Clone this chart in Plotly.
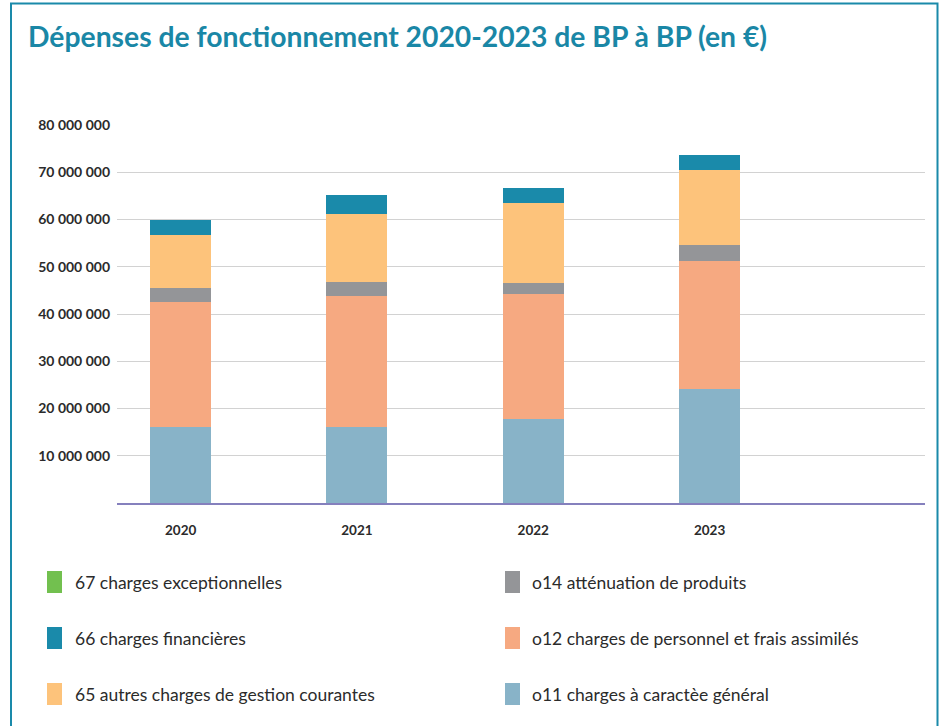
import plotly.graph_objects as go

# ---- data ----
years = ["2020", "2021", "2022", "2023"]
c011 = [16.1e6, 16.1e6, 17.8e6, 24.2e6]   # 011 charges à caractère général
c012 = [26.5e6, 27.8e6, 26.5e6, 27.1e6]   # 012 charges de personnel
c014 = [3.0e6, 2.9e6, 2.3e6, 3.2e6]       # 014 atténuation de produits
c65 = [11.2e6, 14.4e6, 16.9e6, 16.0e6]    # 65 autres charges de gestion courantes
c66 = [3.2e6, 4.0e6, 3.2e6, 3.2e6]        # 66 charges financières
c67 = [0, 0, 0, 0]                        # 67 charges exceptionnelles
total_labels = ["59 248 598", "61 785 192", "63 655 642", "71 493 586"]
ytick_vals = [10e6, 20e6, 30e6, 40e6, 50e6, 60e6, 70e6, 80e6]
ytick_text = ["10 000 000", "20 000 000", "30 000 000", "40 000 000",
              "50 000 000", "60 000 000", "70 000 000", "80 000 000"]

names = {
    "011": "o11 charges à caractèe général",
    "012": "o12 charges de personnel et frais assimilés",
    "014": "o14 atténuation de produits",
    "65": "65 autres charges de gestion courantes",
    "66": "66 charges financières",
    "67": "67 charges exceptionnelles",
}
colors = {
    "011": "#88b3c8",
    "012": "#f6a981",
    "014": "#949598",
    "65": "#fdc37b",
    "66": "#1a8aaa",
    "67": "#72c04f",
}
series = [("011", c011), ("012", c012), ("014", c014), ("65", c65), ("66", c66), ("67", c67)]

W, H = 949, 726
L, R, T, B = 117, 24, 125, 223
pw, ph = W - L - R, H - T - B

def px(x):
    return (x - L) / pw

def py(y):
    return (H - B - y) / ph

fig = go.Figure()
for key, vals in series:
    fig.add_trace(go.Bar(x=years, y=vals, name=names[key], marker_color=colors[key],
                         marker_line_width=0, width=0.346, showlegend=False))

totals = [sum(v) for v in zip(c011, c012, c014, c65, c66, c67)]
for yr, tot, lab in zip(years, totals, total_labels):
    fig.add_annotation(x=yr, y=tot, text=lab, showarrow=False, yanchor="bottom", yshift=5,
                       font=dict(family="Lato", size=14.5, color="#2b2b2b", weight="bold"))

# custom legend
legend_layout = [("67", 0, 0), ("014", 1, 0), ("66", 0, 1), ("012", 1, 1), ("65", 0, 2), ("011", 1, 2)]
col_sw = [47, 505]
col_tx = [73, 530]
row_y = [582, 638, 694]
shapes = []
for key, c, r in legend_layout:
    yc = row_y[r]
    shapes.append(dict(type="rect", xref="paper", yref="paper",
                       x0=px(col_sw[c]), x1=px(col_sw[c] + 15), y0=py(yc - 11), y1=py(yc + 11),
                       fillcolor=colors[key], line_width=0))
    fig.add_annotation(xref="paper", yref="paper", x=px(col_tx[c]), y=py(yc), text=names[key],
                       showarrow=False, xanchor="left", yanchor="middle",
                       font=dict(family="Lato", size=17.5, color="#2b2b2b"))

# frame
shapes.append(dict(type="rect", xref="paper", yref="paper",
                   x0=px(11), x1=px(937.5), y0=py(740), y1=py(3.5),
                   line=dict(color="#1a8aaa", width=2), fillcolor="rgba(0,0,0,0)"))

fig.update_layout(
    width=W, height=H,
    margin=dict(l=L, r=R, t=T, b=B),
    barmode="stack",
    plot_bgcolor="white", paper_bgcolor="white",
    shapes=shapes,
    title=dict(text="Dépenses de fonctionnement 2020-2023 de BP à BP (en €)",
               xref="container", yref="container", x=28 / W, xanchor="left",
               y=1 - 37 / H, yanchor="middle",
               font=dict(family="Lato", size=28.3, color="#1a87a6", weight="bold")),
    xaxis=dict(type="category", range=[-0.361, 4.222], showgrid=False,
               showline=True, linecolor="#8580bd", linewidth=2, ticks="",
               ticklabelstandoff=14,
               tickfont=dict(family="Lato", size=13.5, color="#2b2b2b", weight="bold")),
    yaxis=dict(range=[0, 80e6], tickvals=ytick_vals, ticktext=ytick_text,
               showgrid=True, gridcolor="#d2d2d2", gridwidth=1, zeroline=False,
               showline=False, ticks="", ticklabelstandoff=6,
               tickfont=dict(family="Lato", size=14, color="#2b2b2b", weight="bold")),
)

fig.write_html("out.html", config={"displayModeBar": False},
               post_script="document.body.style.margin='0';document.body.style.overflow='hidden';")
